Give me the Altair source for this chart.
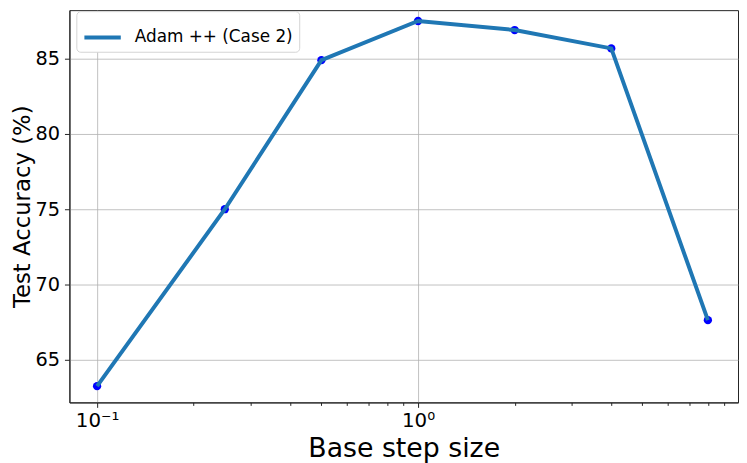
import altair as alt
import pandas as pd

# Data
step_sizes = [0.1, 0.25, 0.5, 1.0, 2.0, 4.0, 8.0]
accuracy = [63.25, 75.0, 84.9, 87.5, 86.9, 85.68, 67.63]
series_name = "Adam ++ (Case 2)"

x_tick_values = [0.1, 0.2, 0.3, 0.4, 0.5, 0.6, 0.7, 0.8, 0.9,
                 1, 2, 3, 4, 5, 6, 7, 8, 9]
y_tick_values = [65, 70, 75, 80, 85]

df = pd.DataFrame({"step": step_sizes, "acc": accuracy, "series": series_name})

FONT = "DejaVu Sans"
major_test = "abs(datum.value - 0.1) < 1e-9 || abs(datum.value - 1) < 1e-9"

x_enc = alt.X(
    "step:Q",
    scale=alt.Scale(type="log", domain=[0.0820, 9.93], nice=False, zero=False),
    axis=alt.Axis(
        title="Base step size",
        values=x_tick_values,
        labelExpr="abs(datum.value - 0.1) < 1e-9 ? '10⁻¹' : (abs(datum.value - 1) < 1e-9 ? '10⁰' : '')",
        tickSize={"condition": {"test": major_test, "value": 5}, "value": 3},
        gridOpacity={"condition": {"test": major_test, "value": 1}, "value": 0},
        labelFontSize=20,
        titleFontSize=27,
        titleFontWeight="normal",
        titlePadding=6,
        labelPadding=3,
        labelFlush=False,
    ),
)
y_enc = alt.Y(
    "acc:Q",
    scale=alt.Scale(domain=[62.17, 88.22], nice=False, zero=False),
    axis=alt.Axis(
        title="Test Accuracy (%)",
        values=y_tick_values,
        tickSize=5,
        labelFontSize=19.5,
        titleFontSize=23,
        titleFontWeight="normal",
        titlePadding=0,
        labelPadding=5,
    ),
)

base = alt.Chart(df)

points = base.mark_circle(size=70, color="#0000ff", opacity=1).encode(x=x_enc, y=y_enc)

line = base.mark_line(strokeWidth=4).encode(
    x=x_enc,
    y=y_enc,
    color=alt.Color(
        "series:N",
        scale=alt.Scale(range=["#1f77b4"]),
        legend=alt.Legend(
            title=None,
            orient="none",
            legendX=7,
            legendY=1,
            symbolType="stroke",
            symbolStrokeWidth=4,
            symbolSize=1350,
            labelFontSize=17,
            labelFont=FONT,
            padding=6,
            fillColor="white",
            strokeColor="#d3d3d3",
            cornerRadius=4,
            labelOffset=12,
        ),
    ),
)

chart = (
    alt.layer(points, line)
    .properties(
        width=675,
        height=396,
        padding={"left": 62, "top": 0, "right": 1, "bottom": 59},
        autosize=alt.AutoSizeParams(type="none"),
    )
    .configure(font=FONT)
    .configure_view(stroke="#222222", strokeWidth=1)
    .configure_axis(
        labelFont=FONT,
        titleFont=FONT,
        labelColor="black",
        titleColor="black",
        domainColor="#222222",
        tickColor="#222222",
        gridColor="#b0b0b0",
        gridWidth=0.8,
    )
)

chart.save("out.html", embed_options={"renderer": "svg", "actions": False})
